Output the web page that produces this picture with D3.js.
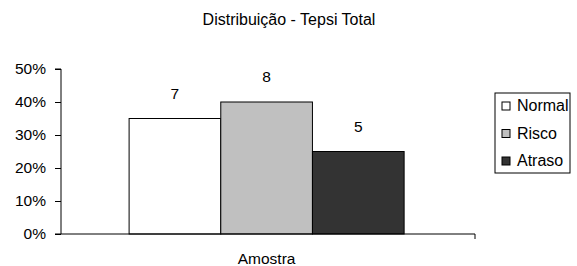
<!DOCTYPE html>
<html>
<head>
<meta charset="utf-8">
<script src="https://cdn.jsdelivr.net/npm/d3@7"></script>
<style>
  body { margin: 0; background: #fff; }
  svg { font-family: "Liberation Sans", Arial, sans-serif; }
</style>
</head>
<body>
<svg width="577" height="266"></svg>
<script>
const title = "Distribuição - Tepsi Total";
const categories = ["Amostra"];
const seriesNames = ["Normal", "Risco", "Atraso"];
const seriesCounts = [7, 8, 5];
const seriesShares = [0.35, 0.40, 0.25];
const seriesColors = ["#ffffff", "#c0c0c0", "#333333"];
const yTicks = [0, 0.1, 0.2, 0.3, 0.4, 0.5];

var svg = d3.select("svg"),
    plotLeft = 61, plotRight = 475, plotTop = 69, plotBottom = 234;

var y = d3.scaleLinear().domain([0, 0.5]).range([plotBottom, plotTop]);
var x0 = d3.scaleBand().domain(categories).range([plotLeft, plotRight]).paddingInner(0).paddingOuter(0.2527).align(0.49);
var x1 = d3.scaleBand().domain(seriesNames).range([0, x0.bandwidth()]);

svg.append("text")
    .attr("x", 289).attr("y", 25)
    .attr("text-anchor", "middle")
    .style("font-size", "16px")
    .text(title);

// y axis
var yAxis = svg.append("g")
    .attr("transform", "translate(" + plotLeft + ",0)")
    .call(d3.axisLeft(y).tickValues(yTicks).tickSize(6).tickPadding(9).tickFormat(d3.format(".0%")));
yAxis.select(".domain").attr("stroke", "#000").attr("d", "M-6," + plotTop + "H0V" + plotBottom + "H-6");
yAxis.selectAll(".tick line").attr("stroke", "#000");
yAxis.selectAll("text").style("font-size", "15.5px").style("font-family", "Liberation Sans, Arial, sans-serif").attr("fill", "#000");

var groups = svg.selectAll("g.cat")
  .data(categories)
  .enter().append("g")
    .attr("class", "cat")
    .attr("transform", function(d) { return "translate(" + x0(d) + ",0)"; });

var barData = seriesNames.map(function(n, i) {
  return {name: n, share: seriesShares[i], count: seriesCounts[i], color: seriesColors[i]};
});

groups.selectAll("rect")
  .data(barData)
  .enter().append("rect")
    .attr("x", function(d) { return x1(d.name); })
    .attr("y", function(d) { return y(d.share); })
    .attr("width", x1.bandwidth())
    .attr("height", function(d) { return plotBottom - y(d.share); })
    .attr("fill", function(d) { return d.color; })
    .attr("stroke", "#000")
    .attr("stroke-width", 1);

groups.selectAll("text.val")
  .data(barData)
  .enter().append("text")
    .attr("class", "val")
    .attr("x", function(d) { return x1(d.name) + x1.bandwidth() / 2; })
    .attr("y", function(d) { return y(d.share) - 20; })
    .attr("text-anchor", "middle")
    .style("font-size", "15.5px")
    .text(function(d) { return d.count; });

// x axis
var xAxis = svg.append("g")
    .attr("transform", "translate(0," + plotBottom + ")")
    .call(d3.axisBottom(x0).tickSize(0).tickPadding(19));
xAxis.select(".domain").attr("stroke", "#000").attr("d", "M" + plotLeft + ",0H" + plotRight + "V5");
xAxis.selectAll("text").style("font-size", "15.5px").style("font-family", "Liberation Sans, Arial, sans-serif").attr("fill", "#000");

// legend
var legend = svg.append("g").attr("transform", "translate(495,93)");
legend.append("rect")
    .attr("width", 75).attr("height", 80)
    .attr("fill", "#fff").attr("stroke", "#000");
var item = legend.selectAll("g.item")
  .data(seriesNames)
  .enter().append("g")
    .attr("class", "item")
    .attr("transform", function(d, i) { return "translate(7," + (9 + i * 27.5) + ")"; });
item.append("rect")
    .attr("width", 8).attr("height", 8)
    .attr("fill", function(d, i) { return seriesColors[i]; })
    .attr("stroke", "#000");
item.append("text")
    .attr("x", 15).attr("y", 9)
    .style("font-size", "16px")
    .text(function(d) { return d; });
</script>
</body>
</html>
